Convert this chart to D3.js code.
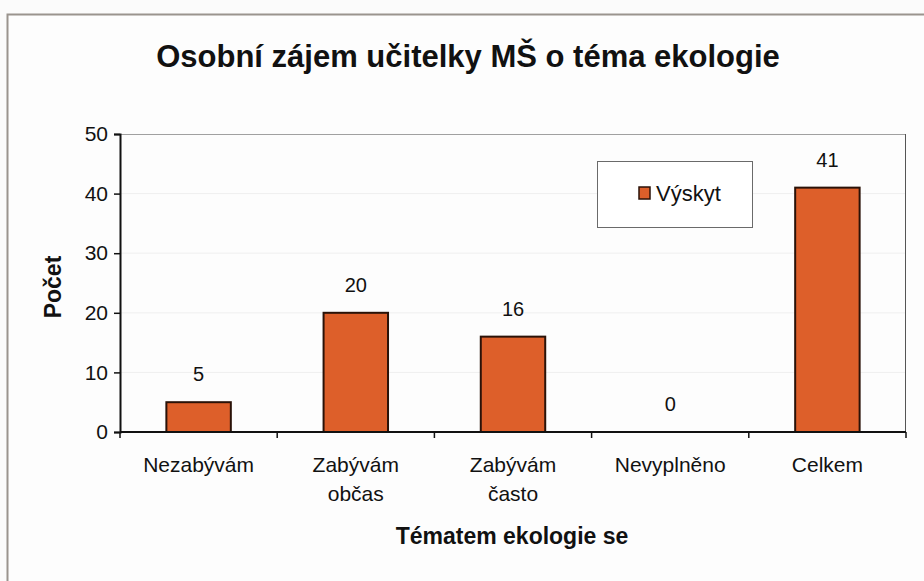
<!DOCTYPE html>
<html>
<head>
<meta charset="utf-8">
<script src="https://cdn.jsdelivr.net/npm/d3@7"></script>
<style>
  body { margin: 0; background: #ffffff; }
  svg { display: block; }
  text { font-family: "Liberation Sans", Arial, sans-serif; fill: #111; }
</style>
</head>
<body>
<svg id="chart" width="924" height="581"></svg>
<script>
const categories = [["Nezabývám"], ["Zabývám", "občas"], ["Zabývám", "často"], ["Nevyplněno"], ["Celkem"]];
const values = [5, 20, 16, 0, 41];
const yTicks = [0, 10, 20, 30, 40, 50];
const seriesName = "Výskyt";
const title = "Osobní zájem učitelky MŠ o téma ekologie";
const xTitle = "Tématem ekologie se";
const yTitle = "Počet";

const svg = d3.select("#chart");
const W = 924, H = 581;
const m = { left: 120, right: 906, top: 134, bottom: 432 };

svg.append("rect").attr("width", W).attr("height", H).attr("fill", "#fbfbfb");
// outer frame (extends off right/bottom)
svg.append("rect").attr("x", 7.5).attr("y", 14.5).attr("width", W).attr("height", H)
  .attr("fill", "#fdfdfd").attr("stroke", "#9a948e").attr("stroke-width", 2);

const x = d3.scaleBand().domain(d3.range(categories.length)).range([m.left, m.right]).paddingInner(0.59).paddingOuter(0.295);
const y = d3.scaleLinear().domain([0, 50]).range([m.bottom, m.top]);

// faint gridlines
svg.append("g").selectAll("line").data(yTicks.filter(d => d > 0 && d < 50)).join("line")
  .attr("x1", m.left).attr("x2", m.right).attr("y1", d => y(d)).attr("y2", d => y(d))
  .attr("stroke", "#efefef").attr("stroke-width", 1);

// plot border top & right
svg.append("line").attr("x1", m.left).attr("x2", m.right).attr("y1", m.top + 0.5).attr("y2", m.top + 0.5)
  .attr("stroke", "#a0a0a0").attr("stroke-width", 1);
svg.append("line").attr("x1", m.right - 0.5).attr("x2", m.right - 0.5).attr("y1", m.top).attr("y2", m.bottom)
  .attr("stroke", "#555").attr("stroke-width", 1);

// bars
svg.append("g").selectAll("rect").data(values).join("rect")
  .attr("x", (d, i) => x(i)).attr("width", x.bandwidth())
  .attr("y", d => y(d)).attr("height", d => y(0) - y(d))
  .attr("fill", "#dd5f2a").attr("stroke", d => d > 0 ? "#2a1208" : "none").attr("stroke-width", 2);

// value labels
svg.append("g").selectAll("text").data(values).join("text")
  .attr("x", (d, i) => x(i) + x.bandwidth() / 2).attr("y", d => y(d) - 21)
  .attr("text-anchor", "middle").attr("font-size", 20).text(d => d);

// y axis
const yAxis = svg.append("g").attr("transform", `translate(${m.left},0)`)
  .call(d3.axisLeft(y).tickValues(yTicks).tickSize(6).tickPadding(6));
yAxis.select(".domain").attr("stroke", "#111").attr("stroke-width", 2);
yAxis.selectAll(".tick line").attr("stroke", "#111").attr("stroke-width", 1.5);
yAxis.selectAll(".tick text").attr("font-size", 21).attr("fill", "#111")
  .attr("font-family", "Liberation Sans, Arial, sans-serif");

// x axis
const xEdges = d3.range(categories.length + 1).map(i => m.left + i * (m.right - m.left) / categories.length);
svg.append("line").attr("x1", m.left).attr("x2", m.right).attr("y1", m.bottom).attr("y2", m.bottom)
  .attr("stroke", "#111").attr("stroke-width", 2);
svg.append("g").selectAll("line").data(xEdges).join("line")
  .attr("x1", d => d).attr("x2", d => d).attr("y1", m.bottom).attr("y2", m.bottom + 6)
  .attr("stroke", "#111").attr("stroke-width", 1.5);

// x labels
const xl = svg.append("g").selectAll("text").data(categories).join("text")
  .attr("text-anchor", "middle").attr("font-size", 21)
  .attr("x", (d, i) => x(i) + x.bandwidth() / 2).attr("y", 472);
xl.each(function(lines) {
  const t = d3.select(this);
  lines.forEach((l, j) => t.append("tspan").attr("x", t.attr("x")).attr("dy", j === 0 ? 0 : 29).text(l));
});

// titles
svg.append("text").attr("x", 468).attr("y", 67).attr("text-anchor", "middle")
  .attr("font-size", 31).attr("font-weight", "bold").text(title);
svg.append("text").attr("x", 512).attr("y", 544).attr("text-anchor", "middle")
  .attr("font-size", 23).attr("font-weight", "bold").text(xTitle);
svg.append("text").attr("transform", `translate(61,287) rotate(-90)`).attr("text-anchor", "middle")
  .attr("font-size", 23).attr("font-weight", "bold").text(yTitle);

// legend
const lg = svg.append("g");
lg.append("rect").attr("x", 597.5).attr("y", 161.5).attr("width", 155).attr("height", 66)
  .attr("fill", "#ffffff").attr("stroke", "#6a6a6a").attr("stroke-width", 1);
lg.append("rect").attr("x", 639).attr("y", 187).attr("width", 11).attr("height", 12)
  .attr("fill", "#dd5f2a").attr("stroke", "#2a1208").attr("stroke-width", 1.5);
lg.append("text").attr("x", 656).attr("y", 201).attr("font-size", 22).text(seriesName);
</script>
</body>
</html>
